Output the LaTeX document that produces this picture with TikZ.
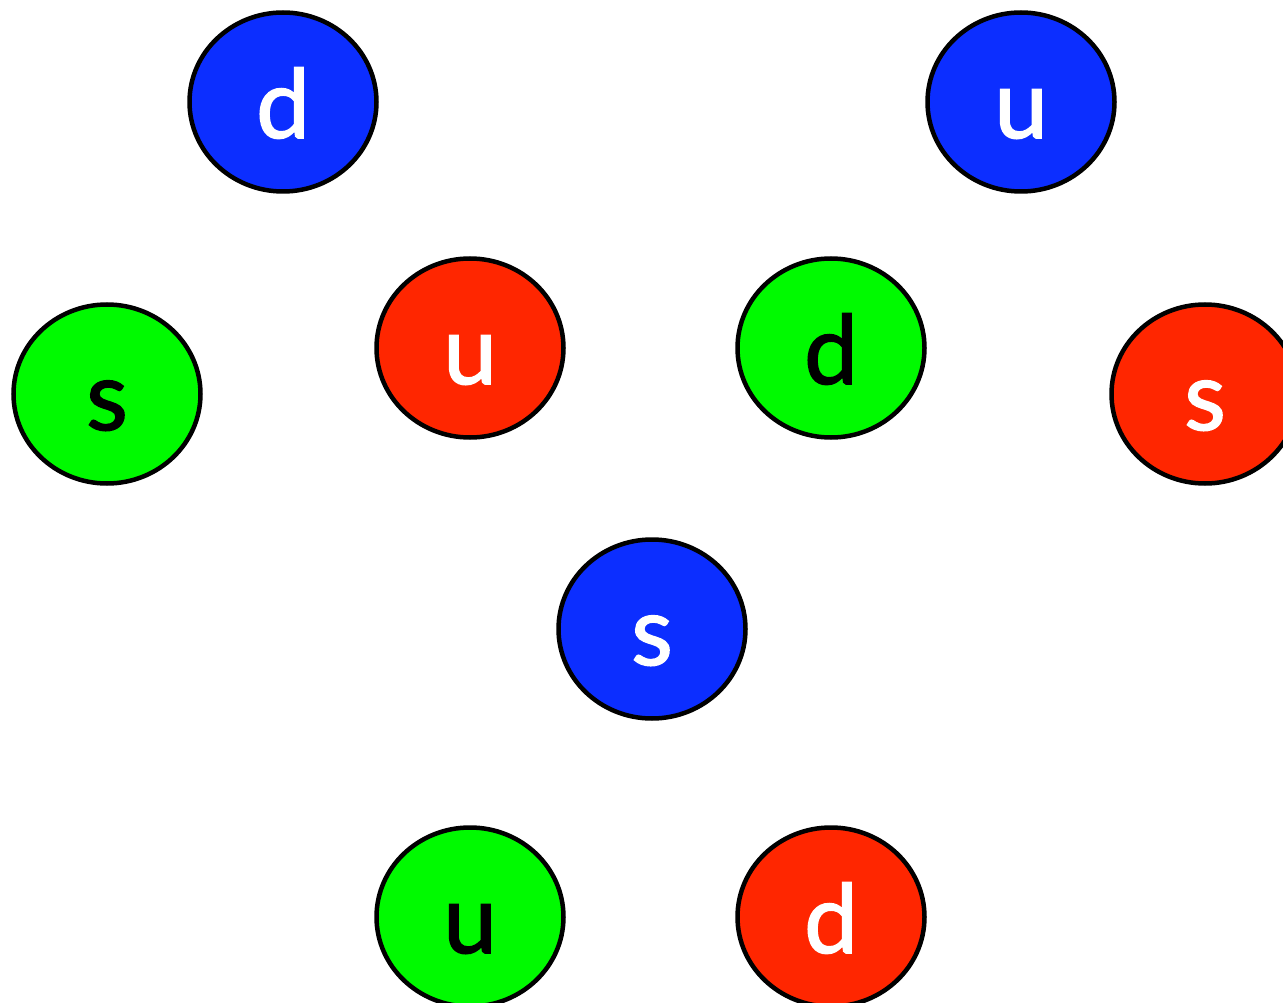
\documentclass[tikz,border=0pt]{standalone}
\usepackage{fontspec}
\usetikzlibrary{shapes.geometric}
\setmainfont{Lato}
\newfontfamily\quarkfont{Lato}[FakeBold=1.6]
\definecolor{qblue}{RGB}{12,46,255}
\definecolor{qred}{RGB}{255,38,0}
\definecolor{qgreen}{RGB}{0,250,0}
\begin{document}
\begin{tikzpicture}[x=1pt,y=-1pt,
  quark/.style={draw=black,line width=4.5pt,ellipse,minimum width=187pt,minimum height=179pt,inner sep=0pt},
  flavour/.style={anchor=base,inner sep=0pt,font=\quarkfont\fontsize{96}{96}\selectfont}
]
\useasboundingbox (0,0) rectangle (1283,1003);
\clip (0,0) rectangle (1283,1003);
\fill[white] (0,0) rectangle (1283,1003);
% quark discs: name, centre, fill colour, letter, letter colour
\foreach \n/\x/\y/\c/\l/\t in {
  dB/283/102/qblue/d/white,
  uB/1021/102/qblue/u/white,
  sG/107/394/qgreen/s/black,
  uR/470/348/qred/u/white,
  dG/831/348/qgreen/d/black,
  sR/1205/394/qred/s/white,
  sB/652/629/qblue/s/white,
  uG/470/917/qgreen/u/black,
  dR/831/917/qred/d/white}{
  \node[quark,fill=\c] (\n) at (\x,\y) {};
  \node[flavour,text=\t] (\n-t) at (\x,\y+36) {\l};
}
\end{tikzpicture}
\end{document}
